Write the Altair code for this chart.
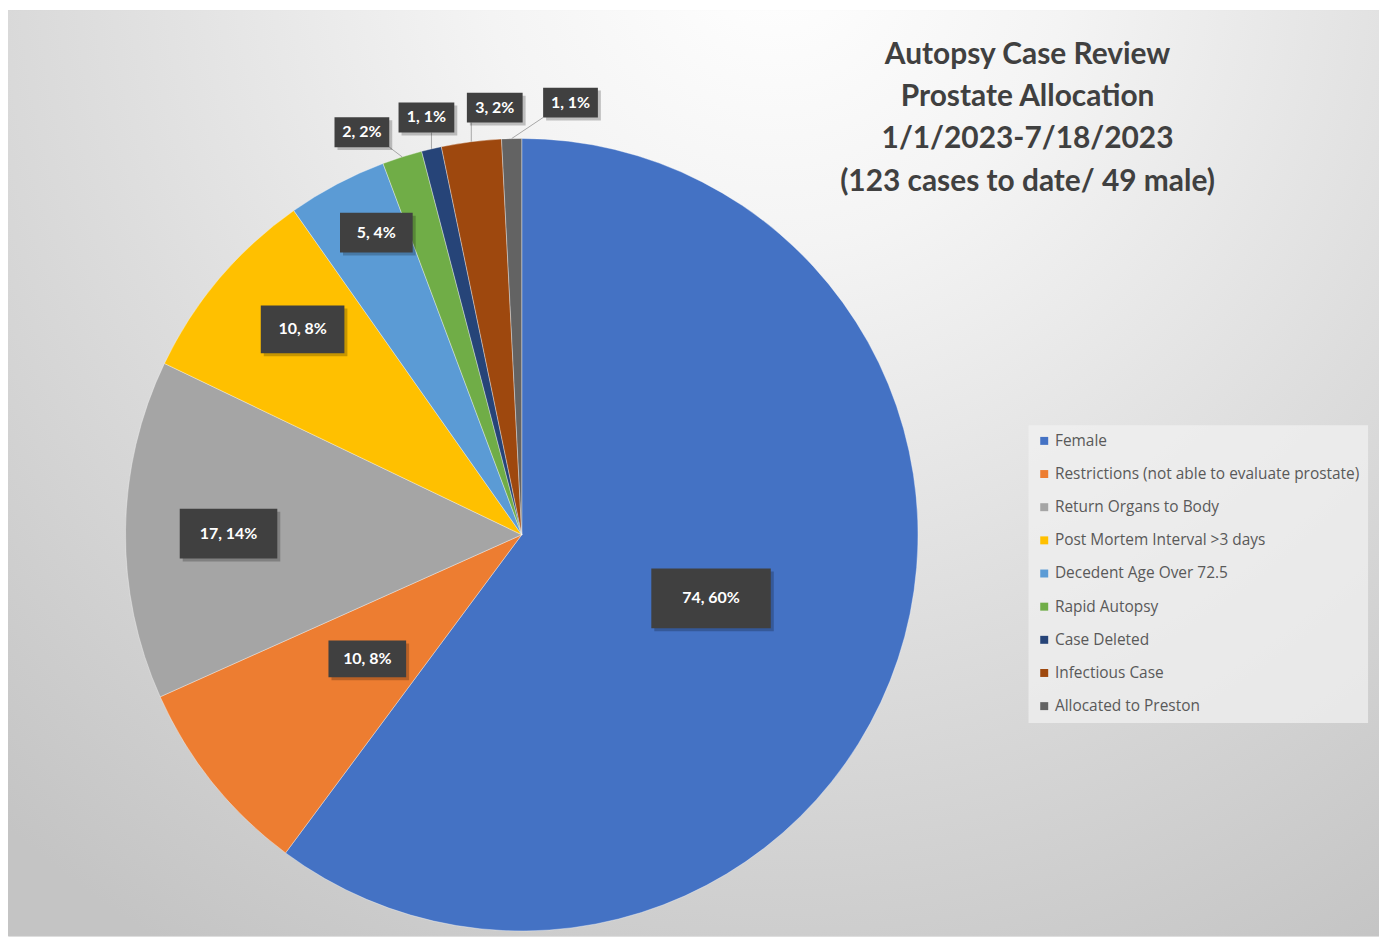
import altair as alt
import pandas as pd

# ---------------- data ----------------
categories = [
    "Female",
    "Restrictions (not able to evaluate prostate)",
    "Return Organs to Body",
    "Post Mortem Interval >3 days",
    "Decedent Age Over 72.5",
    "Rapid Autopsy",
    "Case Deleted",
    "Infectious Case",
    "Allocated to Preston",
]
counts = [74, 10, 17, 10, 5, 2, 1, 3, 1]
colors = ["#4472C4", "#ED7D31", "#A5A5A5", "#FFC000", "#5B9BD5",
          "#70AD47", "#264478", "#9E480E", "#636363"]

title_lines = [
    "Autopsy Case Review",
    "Prostate Allocation",
    "1/1/2023-7/18/2023",
    "(123 cases to date/ 49 male)",
]

# ---------------- label layout (style only) ----------------
label_nudge_deg = [0.3, 0.0, -0.5, 2.9, 2.1, -4.1, 0.3, 3.7, 7.9]
label_radius_factor = [0.504, 0.5, 0.74, 0.758, 0.846, 1.093, 1.08, 1.08, 1.0975]
box_w = [120, 78, 98, 84, 73, 55, 56, 56, 55]
box_h = [60, 37, 50, 48, 40, 30, 30, 30, 30]

W, H = 1377, 930
CX, CY, R = 516, 527, 398

df = pd.DataFrame({
    "category": categories,
    "value": counts,
    "order": list(range(len(categories))),
    "da": label_nudge_deg,
    "rf": label_radius_factor,
    "bw": box_w,
    "bh": box_h,
})

xs = alt.Scale(domain=[0, W], range=[0, W])
ys = alt.Scale(domain=[0, H], range=[0, H])

one = alt.Data(values=[{"k": 1}])

background = alt.Chart(one).mark_rect(
    fill={
        "gradient": "radial",
        "x1": 0.56, "y1": 0.12, "r1": 0.0,
        "x2": 0.56, "y2": 0.12, "r2": 0.85,
        "stops": [
            {"offset": 0.0, "color": "#ffffff"},
            {"offset": 0.25, "color": "#f4f4f4"},
            {"offset": 0.6, "color": "#dddddd"},
            {"offset": 1.0, "color": "#c4c4c4"},
        ],
    }
).encode(x=alt.value(0), x2=alt.value(W), y=alt.value(0), y2=alt.value(H))

pie = alt.Chart(df).mark_arc(
    outerRadius=R, stroke="#ffffff", strokeWidth=0.6, strokeOpacity=0.6
).encode(
    theta=alt.Theta("value:Q", stack=True),
    order=alt.Order("order:Q", sort="ascending"),
    color=alt.Color(
        "category:N",
        scale=alt.Scale(domain=categories, range=colors),
        sort=categories,
        legend=alt.Legend(
            title=None,
            orient="none",
            legendX=1025,
            legendY=417,
            direction="vertical",
            fillColor="rgba(240,240,240,0.75)",
            padding=8,
            symbolType="square",
            symbolSize=64,
            symbolStrokeWidth=0,
            labelFont="Open Sans",
            labelFontSize=15.5,
            labelColor="#595959",
            labelOffset=3,
            rowPadding=16.3,
            labelLimit=500,
        ),
    ),
    x=alt.value(CX),
    y=alt.value(CY),
)

base = alt.Chart(df).transform_joinaggregate(
    total="sum(value)"
).transform_window(
    cum="sum(value)", sort=[alt.SortField("order")]
).transform_calculate(
    mid="(datum.cum - datum.value/2) / datum.total * 2 * PI",
    la="datum.mid + datum.da * PI / 180",
    lr=f"datum.rf * {R}",
    lx=f"{CX} + datum.lr * sin(datum.la)",
    ly=f"{CY} - datum.lr * cos(datum.la)",
    bx1="datum.lx - datum.bw / 2",
    bx2="datum.lx + datum.bw / 2",
    by1="datum.ly - datum.bh / 2",
    by2="datum.ly + datum.bh / 2",
    sx1="datum.bx1 + 3",
    sx2="datum.bx2 + 3",
    sy1="datum.by1 + 3",
    sy2="datum.by2 + 3",
    ex=f"{CX} + {R} * sin(datum.mid)",
    ey=f"{CY} - {R} * cos(datum.mid)",
    tx="clamp(datum.ex, datum.bx1, datum.bx2)",
    ty="datum.by2",
    label="datum.value + ', ' + round(datum.value / datum.total * 100) + '%'",
)

leaders = base.transform_filter("datum.rf > 1").mark_rule(
    color="#a6a6a6", strokeWidth=1
).encode(
    x=alt.X("ex:Q", scale=xs, axis=None),
    y=alt.Y("ey:Q", scale=ys, axis=None),
    x2="tx:Q",
    y2="ty:Q",
)

shadows = base.mark_rect(color="#000000", opacity=0.22).encode(
    x=alt.X("sx1:Q", scale=xs, axis=None),
    x2="sx2:Q",
    y=alt.Y("sy1:Q", scale=ys, axis=None),
    y2="sy2:Q",
)

boxes = base.mark_rect(color="#404040").encode(
    x=alt.X("bx1:Q", scale=xs, axis=None),
    x2="bx2:Q",
    y=alt.Y("by1:Q", scale=ys, axis=None),
    y2="by2:Q",
)

texts = base.mark_text(
    font="Lato", fontSize=16, fontWeight="bold", color="#ffffff",
    align="center", baseline="middle"
).encode(
    x=alt.X("lx:Q", scale=xs, axis=None),
    y=alt.Y("ly:Q", scale=ys, axis=None),
    text="label:N",
)

title = alt.Chart(one).mark_text(
    text=title_lines,
    font="Lato", fontSize=30, fontWeight="bold", color="#404040",
    align="center", baseline="top", lineHeight=42.5,
).encode(x=alt.value(1024), y=alt.value(30))

chart = alt.layer(
    background, pie, leaders, shadows, boxes, texts, title
).properties(
    width=W, height=H, padding=0, autosize=alt.AutoSizeParams(type="none")
).configure_view(stroke=None).configure(background="#ffffff")

chart.save("out.html", embed_options={"renderer": "svg", "actions": False})
